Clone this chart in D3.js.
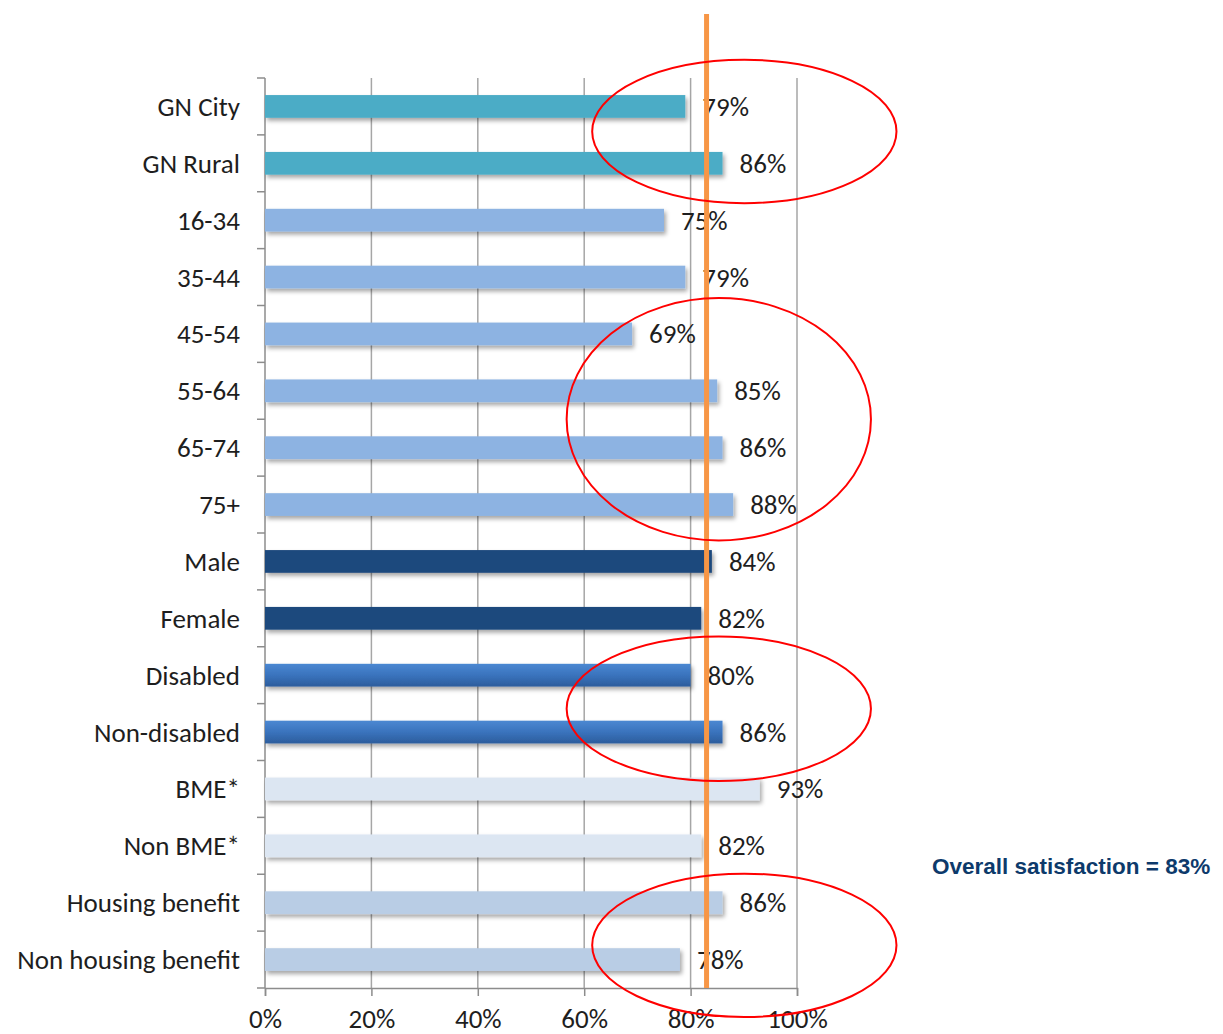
<!DOCTYPE html>
<html>
<head>
<meta charset="utf-8">
<script src="https://cdn.jsdelivr.net/npm/d3@7"></script>
<style>
  html, body { margin: 0; padding: 0; background: #ffffff; }
  svg { display: block; }
</style>
</head>
<body>
<svg id="chart" width="1223" height="1034"></svg>
<script>
// ---- data ----
const categories = ["GN City", "GN Rural", "16-34", "35-44", "45-54", "55-64", "65-74", "75+",
  "Male", "Female", "Disabled", "Non-disabled", "BME*", "Non BME*", "Housing benefit", "Non housing benefit"];
const values = [79, 86, 75, 79, 69, 85, 86, 88, 84, 82, 80, 86, 93, 82, 86, 78];
const groups = ["gn", "gn", "age", "age", "age", "age", "age", "age",
  "gender", "gender", "dis", "dis", "bme", "bme", "hb", "hb"];
const tickValues = [0, 20, 40, 60, 80, 100];
const overall = 83;
const overallText = "Overall satisfaction = 83%";
// red highlight ellipses, in data units: centre (% , row index) and radii (% , rows)
const ellipseCx = [90.1, 85.3, 85.3, 90.1];
const ellipseCy = [0.44, 5.5, 10.59, 14.75];
const ellipseRx = [28.6, 28.6, 28.6, 28.6];
const ellipseRy = [1.26, 2.13, 1.27, 1.26];

(function () {
// ---- layout ----
const svg = d3.select("#chart");
const mLeft = 265, mRight = 797, mTop = 78, mBottom = 988;
const font = "Carlito, Calibri, Lato, sans-serif";
const fs = 27;
const textColor = "#1e1e1e";

const x = d3.scaleLinear().domain([0, 100]).range([mLeft, mRight]);
const y = d3.scaleBand().domain(categories).range([mTop, mBottom]).paddingInner(0.6).paddingOuter(0.3);
// row index -> y centre
const rowY = d3.scaleLinear().domain([0, 1]).range([y(categories[0]) + y.bandwidth() / 2, y(categories[1]) + y.bandwidth() / 2]);

const colors = { gn: "#4bacc6", age: "#8db3e2", gender: "#1f497d", dis: "url(#disGrad)", bme: "#dce6f2", hb: "#b9cde5" };

const defs = svg.append("defs");
const f = defs.append("filter").attr("id", "shadow").attr("x", "-5%").attr("y", "-30%").attr("width", "110%").attr("height", "180%");
f.append("feDropShadow").attr("dx", 2).attr("dy", 3).attr("stdDeviation", 2).attr("flood-color", "#000").attr("flood-opacity", 0.35);
const g1 = defs.append("linearGradient").attr("id", "disGrad").attr("x1", 0).attr("y1", 0).attr("x2", 0).attr("y2", 1);
g1.append("stop").attr("offset", "0%").attr("stop-color", "#4b88d2");
g1.append("stop").attr("offset", "50%").attr("stop-color", "#3a73bd");
g1.append("stop").attr("offset", "100%").attr("stop-color", "#2c5d9c");

// gridlines
svg.append("g").selectAll("line").data(tickValues.slice(1)).join("line")
  .attr("x1", d => x(d)).attr("x2", d => x(d))
  .attr("y1", mTop).attr("y2", mBottom)
  .attr("stroke", "#a6a6a6").attr("stroke-width", 1.5);

// x axis
const xAxis = svg.append("g").attr("transform", `translate(0,${mBottom})`)
  .call(d3.axisBottom(x).tickValues(tickValues).tickFormat(d => d + "%").tickSize(8).tickPadding(13));
xAxis.select(".domain").attr("stroke", "#8c8c8c").attr("stroke-width", 1.5);
xAxis.selectAll(".tick line").attr("stroke", "#8c8c8c").attr("stroke-width", 1.5);
xAxis.selectAll("text").attr("font-family", font).attr("font-size", fs).attr("fill", textColor);

// y axis line and band-boundary ticks
const boundaries = d3.range(categories.length + 1).map(i => mTop + i * y.step());
svg.append("line").attr("x1", mLeft).attr("x2", mLeft).attr("y1", mTop).attr("y2", mBottom)
  .attr("stroke", "#8c8c8c").attr("stroke-width", 1.5);
svg.append("g").selectAll("line").data(boundaries).join("line")
  .attr("x1", mLeft - 8).attr("x2", mLeft).attr("y1", d => d).attr("y2", d => d)
  .attr("stroke", "#8c8c8c").attr("stroke-width", 1.5);

// category labels
svg.append("g").selectAll("text").data(categories).join("text")
  .attr("x", mLeft - 25).attr("y", d => y(d) + y.bandwidth() / 2)
  .attr("text-anchor", "end").attr("dominant-baseline", "central")
  .attr("font-family", font).attr("font-size", fs).attr("fill", textColor)
  .text(d => d);

// bars
svg.append("g").selectAll("rect").data(categories).join("rect")
  .attr("x", x(0)).attr("y", d => y(d))
  .attr("width", (d, i) => x(values[i]) - x(0)).attr("height", y.bandwidth())
  .attr("fill", (d, i) => colors[groups[i]])
  .attr("filter", "url(#shadow)");

// value labels
svg.append("g").selectAll("text").data(categories).join("text")
  .attr("x", (d, i) => x(values[i]) + 17).attr("y", d => y(d) + y.bandwidth() / 2)
  .attr("dominant-baseline", "central")
  .attr("font-family", font).attr("font-size", fs).attr("fill", textColor)
  .text((d, i) => values[i] + "%");

// overall line
svg.append("line").attr("x1", x(overall)).attr("x2", x(overall)).attr("y1", 14).attr("y2", mBottom)
  .attr("stroke", "#f79646").attr("stroke-width", 5);

// ellipses
svg.append("g").selectAll("ellipse").data(ellipseCx).join("ellipse")
  .attr("cx", d => x(d))
  .attr("cy", (d, i) => rowY(ellipseCy[i]))
  .attr("rx", (d, i) => x(ellipseRx[i]) - x(0))
  .attr("ry", (d, i) => rowY(ellipseRy[i]) - rowY(0))
  .attr("fill", "none").attr("stroke", "#ff0000").attr("stroke-width", 2);

// overall text
svg.append("text").attr("x", 932).attr("y", 874)
  .attr("font-family", "Liberation Sans, Arial, sans-serif").attr("font-weight", "bold")
  .attr("font-size", 22.5).attr("fill", "#0d3a6b")
  .text(overallText);
})();
</script>
</body>
</html>
